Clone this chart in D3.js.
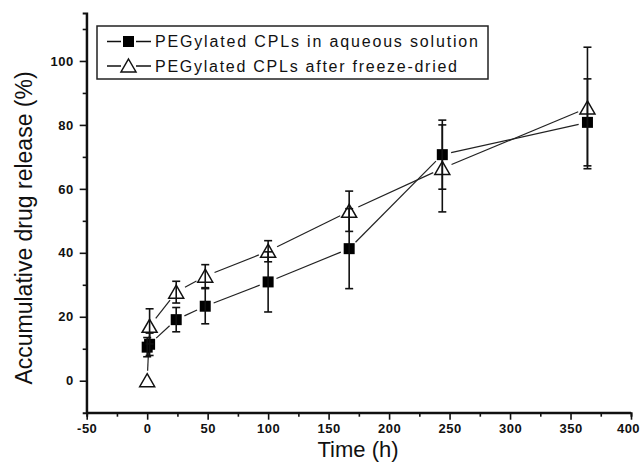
<!DOCTYPE html>
<html>
<head>
  <meta charset="utf-8">
  <title>release</title>
  <style>
    body { margin: 0; background: #fff; }
    text { font-family: Arial, "Liberation Sans", sans-serif; }
  </style>
</head>
<body>
  <div id="chart"></div>
  <script src="https://cdn.jsdelivr.net/npm/d3@7"></script>
  <script>
  // time points (h)
  var times = [0, 2, 24, 48, 100, 167, 244, 364];
  // PEGylated CPLs in aqueous solution
  var aqValues = [10.5, 11.4, 19.1, 23.3, 30.9, 41.3, 70.7, 80.8];
  var aqErr    = [3, 3.5, 3.8, 5.5, 9.4, 12.5, 10.8, 13.6];
  // PEGylated CPLs after freeze-dried
  var fdValues = [0, 17, 27.7, 32.7, 40.5, 53, 66.4, 85.3];
  var fdErr    = [0, 5.5, 3.4, 3.6, 3.3, 6.3, 13.6, 19];

  var xMajor = [-50, 0, 50, 100, 150, 200, 250, 300, 350, 400];
  var yMajor = [0, 20, 40, 60, 80, 100];
  var seriesNames = ["PEGylated CPLs in aqueous solution", "PEGylated CPLs after freeze-dried"];

  var W = 640, H = 476;
  var svg = d3.select("#chart").append("svg")
    .attr("width", W).attr("height", H);

  var x = d3.scaleLinear().domain([-50, 400]).range([86.7, 631]);
  var y = d3.scaleLinear().domain([-10, 115]).range([412.7, 13]);

  //軸 (マイナスはハイフンで表示)
  var fmt = function(d){ return String(d); };
  var xAxis = d3.axisBottom(x).tickValues(xMajor).tickSize(7).tickPadding(4).tickFormat(fmt);
  var xMinor = d3.axisBottom(x).tickValues(d3.range(-25, 400, 50)).tickSize(4).tickFormat("");
  var yAxis = d3.axisLeft(y).tickValues(yMajor).tickSize(7).tickPadding(6).tickFormat(fmt);
  var yMinor = d3.axisLeft(y).tickValues([10, 30, 50, 70, 90, 110]).tickSize(4).tickFormat("");

  function styleAxis(g) {
    g.selectAll(".domain").attr("stroke", "#111").attr("stroke-width", 2);
    g.selectAll(".tick line").attr("stroke", "#111").attr("stroke-width", 1.6);
    g.selectAll(".tick text").attr("fill", "#111")
      .style("font-size", "13px").style("font-weight", "bold").style("letter-spacing", "0.5px");
  }

  var gx = svg.append("g").attr("transform", "translate(0," + y(-10) + ")").call(xAxis);
  svg.append("g").attr("transform", "translate(0," + y(-10) + ")").call(xMinor).call(styleAxis);
  styleAxis(gx);
  gx.selectAll(".domain").attr("d", "M" + x(-50) + ",0H" + x(400));
  // 右端の400が切れないように少し左へ
  gx.selectAll(".tick text").filter(function(d){ return d == 400; }).attr("dx", "-3");
  var gy = svg.append("g").attr("transform", "translate(" + x(-50) + ",0)").call(yAxis);
  svg.append("g").attr("transform", "translate(" + x(-50) + ",0)").call(yMinor).call(styleAxis);
  styleAxis(gy);
  gy.selectAll(".domain").attr("d", "M0," + y(-10) + "V" + y(115));

  svg.append("text")
    .attr("x", 358).attr("y", 457)
    .attr("text-anchor", "middle")
    .style("font-size", "22px").attr("fill", "#111")
    .text("Time (h)");
  svg.append("text")
    .attr("transform", "translate(32,228) rotate(-90)")
    .attr("text-anchor", "middle")
    .style("font-size", "23px").attr("fill", "#111")
    .text("Accumulative drug release (%)");

  var aq = times.map(function(t, i){ return {t: t, v: aqValues[i], e: aqErr[i]}; });
  var fd = times.map(function(t, i){ return {t: t, v: fdValues[i], e: fdErr[i]}; });

  //点と点の間の線(マーカーの周りは空ける)
  function drawLines(data, gap) {
    var g = svg.append("g");
    for (var i = 0; i < data.length - 1; i++) {
      var x1 = x(data[i].t), y1 = y(data[i].v);
      var x2 = x(data[i+1].t), y2 = y(data[i+1].v);
      var dx = x2 - x1, dy = y2 - y1;
      var len = Math.sqrt(dx*dx + dy*dy);
      if (len <= gap * 2 + 2) continue;
      var ux = dx / len, uy = dy / len;
      g.append("line")
        .attr("x1", x1 + ux*gap).attr("y1", y1 + uy*gap)
        .attr("x2", x2 - ux*gap).attr("y2", y2 - uy*gap)
        .attr("stroke", "#222").attr("stroke-width", 1.2);
    }
  }

  function drawErr(data) {
    var g = svg.append("g");
    data.forEach(function(d){
      if (d.e <= 0) return;
      var cx = x(d.t);
      g.append("line").attr("x1", cx).attr("x2", cx)
        .attr("y1", y(d.v - d.e)).attr("y2", y(d.v + d.e))
        .attr("stroke", "#111").attr("stroke-width", 1.6);
      [d.v - d.e, d.v + d.e].forEach(function(v){
        g.append("line").attr("x1", cx - 4).attr("x2", cx + 4)
          .attr("y1", y(v)).attr("y2", y(v))
          .attr("stroke", "#111").attr("stroke-width", 1.6);
      });
    });
  }

  function square(g, cx, cy) {
    g.append("rect").attr("x", cx - 5.5).attr("y", cy - 5.5)
      .attr("width", 11).attr("height", 11).attr("fill", "#000");
  }
  function triangle(g, cx, cy) {
    g.append("path")
      .attr("d", "M" + cx + "," + (cy - 7) + "L" + (cx + 7.5) + "," + (cy + 6) + "L" + (cx - 7.5) + "," + (cy + 6) + "Z")
      .attr("fill", "#fff").attr("stroke", "#111").attr("stroke-width", 1.5);
  }

  drawLines(aq, 9);
  drawLines(fd, 10);

  var gm = svg.append("g");
  aq.forEach(function(d){ square(gm, x(d.t), y(d.v)); });
  fd.forEach(function(d){ triangle(gm, x(d.t), y(d.v)); });

  drawErr(aq);
  drawErr(fd);

  //凡例
  var leg = svg.append("g");
  leg.append("rect").attr("x", 97).attr("y", 26).attr("width", 391).attr("height", 53)
    .attr("fill", "#fff").attr("stroke", "#222").attr("stroke-width", 1.5);
  var legY = [41.5, 66];
  var legEnd = [478, 457];
  seriesNames.forEach(function(name, i){
    leg.append("line").attr("x1", 107).attr("x2", 121).attr("y1", legY[i]).attr("y2", legY[i])
      .attr("stroke", "#111").attr("stroke-width", 1.5);
    leg.append("line").attr("x1", 136).attr("x2", 151).attr("y1", legY[i]).attr("y2", legY[i])
      .attr("stroke", "#111").attr("stroke-width", 1.5);
    if (i == 0) square(leg, 128.5, legY[i]); else triangle(leg, 128.5, legY[i]);
    leg.append("text")
      .attr("x", 155).attr("y", legY[i] + 5.5)
      .attr("textLength", legEnd[i] - 155).attr("lengthAdjust", "spacing")
      .style("font-size", "16px").attr("fill", "#111")
      .text(name);
  });
  </script>
</body>
</html>
